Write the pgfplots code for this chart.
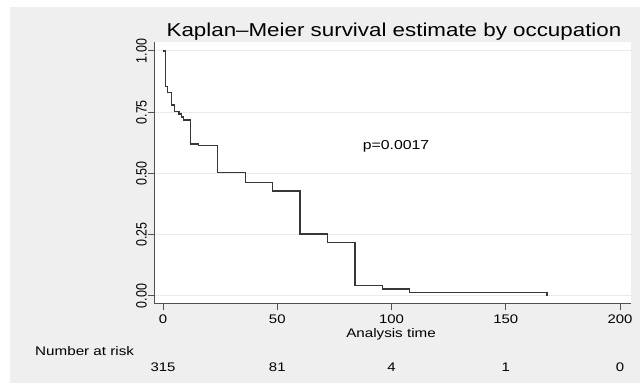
\documentclass[border=0pt]{standalone}
\usepackage{pgfplots}
\pgfplotsset{compat=1.18}
\usepackage{fontspec}
\setmainfont{Liberation Sans}
\definecolor{bg}{RGB}{239,239,239}
\definecolor{axisc}{RGB}{80,80,80}
\definecolor{curvec}{RGB}{55,55,55}
\definecolor{gridc}{RGB}{234,234,234}
\newcommand{\sm}{\fontsize{12.5}{14}\selectfont}
\begin{document}
\begin{tikzpicture}
\useasboundingbox (0bp,0bp) rectangle (640bp,383bp);
\fill[white] (0bp,0bp) rectangle (640bp,383bp);
\fill[bg] (10bp,0bp) rectangle (640bp,376bp);
\begin{axis}[
  at={(154bp,79bp)}, anchor=south west,
  scale only axis, width=477bp, height=262bp,
  xmin=-3.94, xmax=204.8, ymin=-0.0327, ymax=1.0367,
  axis x line*=bottom, axis y line*=left,
  axis line style={-, draw=axisc, line width=1bp},
  axis background/.style={fill=white},
  tick align=outside, major tick length=6bp,
  tick style={draw=axisc, line width=1bp},
  xtick={0,50,100,150,200}, ytick={0,0.25,0.5,0.75,1},
  /pgf/number format/assume math mode=true,
  tick label style={font=\sm},
  xticklabel style={xscale=1.2, yshift=-1.5bp},
  yticklabel style={/pgf/number format/fixed, /pgf/number format/fixed zerofill, /pgf/number format/precision=2, rotate=90, yscale=1.2, anchor=south, inner sep=0.8bp},
  ymajorgrids, grid style={draw=gridc, line width=1bp},
  clip=false,
]
\addplot[const plot, draw=curvec, line width=1.3bp] coordinates {
(0,1) (1,0.854) (2,0.83) (3.8,0.78) (5,0.752) (7,0.743) (8,0.73) (9,0.718)
(12,0.62) (15.5,0.613) (24,0.505) (36,0.464) (48,0.429) (60,0.253) (72,0.218)
(84,0.044) (96,0.029) (108,0.013) (168,0)
};
\node[anchor=base, font=\fontsize{13}{15}\selectfont, xscale=1.22] at (axis cs:102,0.596) {p=0.0017};
\end{axis}
\node[anchor=base, font=\fontsize{18.7}{22}\selectfont, xscale=1.2] at (394bp,346.3bp) {Kaplan--Meier survival estimate by occupation};
\node[anchor=base, font=\sm, xscale=1.22] at (391bp,45.5bp) {Analysis time};
\node[anchor=base west, font=\sm, xscale=1.22, inner sep=0pt] at (35bp,28bp) {Number at risk};
\node[anchor=base, font=\sm, xscale=1.2] at (163bp,12bp) {315};
\node[anchor=base, font=\sm, xscale=1.2] at (277.3bp,12bp) {81};
\node[anchor=base, font=\sm, xscale=1.2] at (391.5bp,12bp) {4};
\node[anchor=base, font=\sm, xscale=1.2] at (505.8bp,12bp) {1};
\node[anchor=base, font=\sm, xscale=1.2] at (620bp,12bp) {0};
\end{tikzpicture}
\end{document}
